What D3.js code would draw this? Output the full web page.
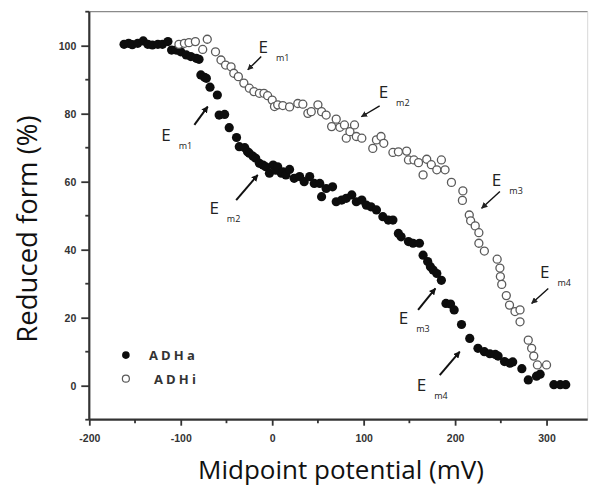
<!DOCTYPE html>
<html>
<head>
<meta charset="utf-8">
<script src="https://cdn.jsdelivr.net/npm/d3@7"></script>
<style>
  body { margin: 0; background: #fff; }
  svg { display: block; font-family: "Open Sans", sans-serif; }
</style>
</head>
<body>
<svg id="chart" width="593" height="491"></svg>
<script>
// ADHa (filled) - midpoint potential (mV) / reduced form (%)
const adhaPotential = [-162,-157,-153,-147,-141,-136,-131,-125,-120,-114,-110,-105,-100,-94,-89,-83,-80,-78,-74,-72,-68,-60,-58,-52,-47,-39,-36,-30,-27,-25,-21,-18,-14,-10,-7,-3,1,4,6,10,12,15,19,24,30,35,41,46,52,54,59,66,70,76,81,87,92,98,103,108,114,121,127,132,138,141,149,154,161,165,170,173,176,180,185,190,195,199,207,216,225,232,238,244,247,254,260,263,273,280,289,293,308,315,321]
const adhaReduced = [100.4,100.7,100.3,100.7,101.4,100.4,100.2,100.4,100.4,101.2,98.7,98.7,98.2,97.3,96.8,96.3,96,91.4,90.7,90.4,87.8,85.5,79.6,79.8,75.9,73,70.3,70,68.8,68.4,67.5,66.9,65.4,64.9,64.4,62.5,64.9,63.4,64.4,62.5,62.9,62,63.6,61,61.5,60,61.5,59.5,59.5,55.6,58,58.5,54.1,54.6,55.1,56.1,54.1,54.6,53.1,52.6,51.7,49.7,48.7,48.7,44.8,43.8,42.4,41.9,41.9,38.4,36.5,35,34,33,31,24.2,24,22.3,18,13.9,11,10,9.4,9.2,8.7,7.1,6.6,7,5,1.7,2.8,3.4,0.3,0.3,0.3]

// ADHi (open)
const adhiPotential = [-102,-96,-91,-84,-76,-71,-62,-56,-51,-45,-42,-37,-31,-25,-20,-14,-9,-5,0,2.5,6,11.6,19,28,33.5,39,42.7,50,54,59,65,70,74,79,81,85,90,92,98,110,114,119,122,132,138,147,149,155,160,165,169,174,180,185,189,196,208.5,208,215.5,217,222,226,226,232,246,249,249.5,251,256,259.5,265.5,271,271,280,283.7,286,290,300]
const adhiReduced = [100.4,100.7,100.9,101.2,98.9,101.9,98.2,95.8,94.3,93.8,91.9,90.9,89,87.5,86.5,86,86,85.3,84,82.1,82.6,82.4,82,83,82.8,80.1,80.6,82.6,80.6,79.6,76.2,78.4,76,76.7,72.8,74.7,76.7,73.3,72.8,69.8,72.3,73.3,71.3,68.6,68.8,69,66.4,66.4,65.6,62,66.6,65,63.5,66.4,63.5,59.8,57.3,54.5,50.2,48.5,47,45,41.9,39.6,37.2,34.6,32.1,29.8,26.5,23.7,21.8,22.3,18.8,13.4,11,8.7,6.1,6.1]

const xTicks = [-200, -100, 0, 100, 200, 300]
const xMinorTicks = [-150, -50, 50, 150, 250]
const yTicks = [0, 20, 40, 60, 80, 100]
const yMinorTicks = [-10, 10, 30, 50, 70, 90, 110]
const seriesNames = ["ADHa", "ADHi"]

// E_m labels: text anchor + arrow (from -> to), in data units
const annLabels = ["m1", "m2", "m3", "m4", "m1", "m2", "m3", "m4"]
const annSeries = ["a", "a", "a", "a", "i", "i", "i", "i"]
const annText = [[-120.2, 72.3], [-67.6, 50.8], [139.4, 18.4], [159.1, -1.3],
                 [-13.9, 98.1], [117.5, 84.9], [241.3, 59], [293.9, 32]]
const annArrow = [[-85.1, 76.7, -70.5, 82.1], [-39.4, 54.6, -15.8, 62], [159.5, 22.3, 178.5, 28.6], [183.2, 3.1, 205.1, 10],
                  [-12, 96.8, -26.7, 92.9], [117.5, 82.3, 97.5, 79.1], [249, 57.1, 229, 52.2], [301.9, 28.6, 283.7, 24.2]]

const svg = d3.select("#chart")
const margin = { top: 11.7, right: 5.3, bottom: 71.3, left: 89.3 }
const width = +svg.attr("width") - margin.left - margin.right
const height = +svg.attr("height") - margin.top - margin.bottom
const g = svg.append("g").attr("transform", "translate(" + margin.left + "," + margin.top + ")")

const x = d3.scaleLinear().domain([-200, 345]).range([0, width])
const y = d3.scaleLinear().domain([-10, 110]).range([height, 0])

// frame top / right
g.append("line").attr("x1", 0).attr("x2", width).attr("y1", 0).attr("y2", 0)
    .attr("stroke", "#8a8a8a").attr("stroke-width", 1.2)
g.append("line").attr("x1", width).attr("x2", width).attr("y1", 0).attr("y2", height)
    .attr("stroke", "#d8d8d8").attr("stroke-width", 1)

// x axis
const xAxis = g.append("g").attr("transform", "translate(0," + height + ")")
    .call(d3.axisBottom(x).tickValues(xTicks).tickSize(6).tickPadding(9).tickFormat(d => String(d)))
xAxis.append("g").selectAll("line").data(xMinorTicks).enter().append("line")
    .attr("x1", d => x(d)).attr("x2", d => x(d)).attr("y1", 0).attr("y2", 3.5)
// y axis
const yAxis = g.append("g")
    .call(d3.axisLeft(y).tickValues(yTicks).tickSize(8).tickPadding(5).tickFormat(d => String(d)))
yAxis.append("g").selectAll("line").data(yMinorTicks).enter().append("line")
    .attr("x1", 0).attr("x2", -4).attr("y1", d => y(d)).attr("y2", d => y(d))

g.selectAll(".domain").attr("stroke", "#333").attr("stroke-width", 2.2)
xAxis.select(".domain").attr("d", "M0,0H" + width)
yAxis.select(".domain").attr("d", "M0," + height + "V0")
xAxis.selectAll("line").attr("stroke", "#333").attr("stroke-width", 1.8)
yAxis.selectAll("line").attr("stroke", "#333").attr("stroke-width", 1.8)
g.selectAll(".tick text").attr("fill", "#333").style("font-size", "10.5px").style("font-weight", "bold")

// axis titles
svg.append("text")
    .attr("x", 341).attr("y", 479)
    .attr("text-anchor", "middle")
    .style("font-size", "26px").attr("fill", "#111")
    .text("Midpoint potential (mV)")
svg.append("text")
    .attr("transform", "translate(37,229) rotate(-90)")
    .attr("text-anchor", "middle")
    .style("font-size", "27.5px").attr("fill", "#111")
    .text("Reduced form (%)")

// data
g.selectAll(".adha").data(adhaPotential).enter().append("circle")
    .attr("class", "adha")
    .attr("cx", d => x(d))
    .attr("cy", (d, i) => y(adhaReduced[i]))
    .attr("r", 4.6)
    .attr("fill", "#0d0d0d")

g.selectAll(".adhi").data(adhiPotential).enter().append("circle")
    .attr("class", "adhi")
    .attr("cx", d => x(d))
    .attr("cy", (d, i) => y(adhiReduced[i]))
    .attr("r", 4)
    .attr("fill", "#fff")
    .attr("stroke", "#5a5a5a")
    .attr("stroke-width", 1.3)

// arrow heads
const defs = svg.append("defs")
defs.append("marker").attr("id", "headA")
    .attr("viewBox", "0 0 10 10").attr("refX", 9).attr("refY", 5)
    .attr("markerWidth", 3.4).attr("markerHeight", 3.4).attr("orient", "auto")
    .append("path").attr("d", "M0,0L10,5L0,10z").attr("fill", "#111")
defs.append("marker").attr("id", "headI")
    .attr("viewBox", "0 0 10 10").attr("refX", 9).attr("refY", 5)
    .attr("markerWidth", 4.5).attr("markerHeight", 4.5).attr("orient", "auto")
    .append("path").attr("d", "M0,0L10,5L0,10z").attr("fill", "#222")

annLabels.forEach((lab, i) => {
    const a = annArrow[i]
    const filled = annSeries[i] === "a"
    g.append("line")
        .attr("x1", x(a[0])).attr("y1", y(a[1]))
        .attr("x2", x(a[2])).attr("y2", y(a[3]))
        .attr("stroke", "#111")
        .attr("stroke-width", filled ? 2 : 1.4)
        .attr("marker-end", filled ? "url(#headA)" : "url(#headI)")
    const t = g.append("text")
        .attr("x", x(annText[i][0]) - 1).attr("y", y(annText[i][1]) + 1)
        .attr("fill", "#222")
        .style("font-size", "17px")
    t.append("tspan").text("E")
    t.append("tspan").attr("dx", 8).attr("dy", 8).style("font-size", "9px").text(lab)
})

// legend
const legend = g.append("g").attr("transform", "translate(" + x(-160) + "," + y(9) + ")")
seriesNames.forEach((name, i) => {
    const row = legend.append("g").attr("transform", "translate(0," + (i * 23.6) + ")")
    row.append("circle").attr("r", i === 0 ? 3.8 : 3.5)
        .attr("fill", i === 0 ? "#0d0d0d" : "#fff")
        .attr("stroke", i === 0 ? "none" : "#5a5a5a").attr("stroke-width", 1.2)
    row.append("text").attr("x", i === 0 ? 23 : 28).attr("y", 5)
        .style("font-size", "13px").style("font-weight", "bold")
        .style("letter-spacing", "3.2px").attr("fill", "#333")
        .text(name)
})
</script>
</body>
</html>
